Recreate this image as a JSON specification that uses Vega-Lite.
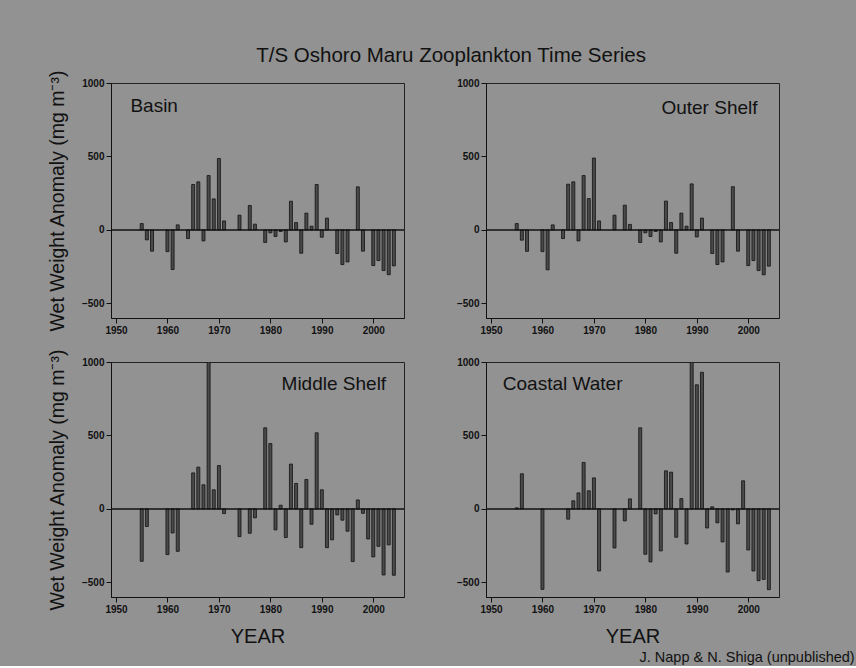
{
  "$schema": "https://vega.github.io/schema/vega-lite/v6.json",
  "background": "#929292",
  "padding": {"left": 46, "top": 46, "right": 2, "bottom": 1},
  "title": {"text": "T/S Oshoro Maru Zooplankton Time Series", "fontSize": 20.5, "fontWeight": "normal", "anchor": "middle", "offset": 2, "color": "#111", "font": "Liberation Sans"},
  "datasets": {
    "anom": [
      {"region": "Basin", "year": 1955, "value": 43}, {"region": "Basin", "year": 1956, "value": -68}, {"region": "Basin", "year": 1957, "value": -145},
      {"region": "Basin", "year": 1960, "value": -148}, {"region": "Basin", "year": 1961, "value": -270}, {"region": "Basin", "year": 1962, "value": 34},
      {"region": "Basin", "year": 1964, "value": -59}, {"region": "Basin", "year": 1965, "value": 309}, {"region": "Basin", "year": 1966, "value": 327},
      {"region": "Basin", "year": 1967, "value": -75}, {"region": "Basin", "year": 1968, "value": 370}, {"region": "Basin", "year": 1969, "value": 211},
      {"region": "Basin", "year": 1970, "value": 486}, {"region": "Basin", "year": 1971, "value": 61}, {"region": "Basin", "year": 1974, "value": 100},
      {"region": "Basin", "year": 1976, "value": 166}, {"region": "Basin", "year": 1977, "value": 39}, {"region": "Basin", "year": 1979, "value": -86},
      {"region": "Basin", "year": 1980, "value": -20}, {"region": "Basin", "year": 1981, "value": -45}, {"region": "Basin", "year": 1982, "value": -11},
      {"region": "Basin", "year": 1983, "value": -82}, {"region": "Basin", "year": 1984, "value": 195}, {"region": "Basin", "year": 1985, "value": 50},
      {"region": "Basin", "year": 1986, "value": -159}, {"region": "Basin", "year": 1987, "value": 114}, {"region": "Basin", "year": 1988, "value": 25},
      {"region": "Basin", "year": 1989, "value": 309}, {"region": "Basin", "year": 1990, "value": -50}, {"region": "Basin", "year": 1991, "value": 80},
      {"region": "Basin", "year": 1993, "value": -161}, {"region": "Basin", "year": 1994, "value": -236}, {"region": "Basin", "year": 1995, "value": -218},
      {"region": "Basin", "year": 1997, "value": 293}, {"region": "Basin", "year": 1998, "value": -145}, {"region": "Basin", "year": 2000, "value": -243},
      {"region": "Basin", "year": 2001, "value": -209}, {"region": "Basin", "year": 2002, "value": -277}, {"region": "Basin", "year": 2003, "value": -305},
      {"region": "Basin", "year": 2004, "value": -245},

      {"region": "Outer Shelf", "year": 1955, "value": 43}, {"region": "Outer Shelf", "year": 1956, "value": -70}, {"region": "Outer Shelf", "year": 1957, "value": -146},
      {"region": "Outer Shelf", "year": 1960, "value": -148}, {"region": "Outer Shelf", "year": 1961, "value": -272}, {"region": "Outer Shelf", "year": 1962, "value": 34},
      {"region": "Outer Shelf", "year": 1964, "value": -59}, {"region": "Outer Shelf", "year": 1965, "value": 311}, {"region": "Outer Shelf", "year": 1966, "value": 327},
      {"region": "Outer Shelf", "year": 1967, "value": -75}, {"region": "Outer Shelf", "year": 1968, "value": 370}, {"region": "Outer Shelf", "year": 1969, "value": 213},
      {"region": "Outer Shelf", "year": 1970, "value": 489}, {"region": "Outer Shelf", "year": 1971, "value": 61}, {"region": "Outer Shelf", "year": 1974, "value": 100},
      {"region": "Outer Shelf", "year": 1976, "value": 168}, {"region": "Outer Shelf", "year": 1977, "value": 37}, {"region": "Outer Shelf", "year": 1979, "value": -86},
      {"region": "Outer Shelf", "year": 1980, "value": -20}, {"region": "Outer Shelf", "year": 1981, "value": -45}, {"region": "Outer Shelf", "year": 1982, "value": -11},
      {"region": "Outer Shelf", "year": 1983, "value": -82}, {"region": "Outer Shelf", "year": 1984, "value": 196}, {"region": "Outer Shelf", "year": 1985, "value": 50},
      {"region": "Outer Shelf", "year": 1986, "value": -159}, {"region": "Outer Shelf", "year": 1987, "value": 114}, {"region": "Outer Shelf", "year": 1988, "value": 25},
      {"region": "Outer Shelf", "year": 1989, "value": 313}, {"region": "Outer Shelf", "year": 1990, "value": -48}, {"region": "Outer Shelf", "year": 1991, "value": 80},
      {"region": "Outer Shelf", "year": 1993, "value": -161}, {"region": "Outer Shelf", "year": 1994, "value": -236}, {"region": "Outer Shelf", "year": 1995, "value": -218},
      {"region": "Outer Shelf", "year": 1997, "value": 294}, {"region": "Outer Shelf", "year": 1998, "value": -145}, {"region": "Outer Shelf", "year": 2000, "value": -243},
      {"region": "Outer Shelf", "year": 2001, "value": -209}, {"region": "Outer Shelf", "year": 2002, "value": -277}, {"region": "Outer Shelf", "year": 2003, "value": -306},
      {"region": "Outer Shelf", "year": 2004, "value": -247},

      {"region": "Middle Shelf", "year": 1955, "value": -357}, {"region": "Middle Shelf", "year": 1956, "value": -120}, {"region": "Middle Shelf", "year": 1960, "value": -311},
      {"region": "Middle Shelf", "year": 1961, "value": -164}, {"region": "Middle Shelf", "year": 1962, "value": -289}, {"region": "Middle Shelf", "year": 1965, "value": 245},
      {"region": "Middle Shelf", "year": 1966, "value": 284}, {"region": "Middle Shelf", "year": 1967, "value": 164}, {"region": "Middle Shelf", "year": 1968, "value": 1000},
      {"region": "Middle Shelf", "year": 1969, "value": 130}, {"region": "Middle Shelf", "year": 1970, "value": 295}, {"region": "Middle Shelf", "year": 1971, "value": -32},
      {"region": "Middle Shelf", "year": 1974, "value": -189}, {"region": "Middle Shelf", "year": 1976, "value": -166}, {"region": "Middle Shelf", "year": 1977, "value": -61},
      {"region": "Middle Shelf", "year": 1979, "value": 552}, {"region": "Middle Shelf", "year": 1980, "value": 445}, {"region": "Middle Shelf", "year": 1981, "value": -143},
      {"region": "Middle Shelf", "year": 1982, "value": 25}, {"region": "Middle Shelf", "year": 1983, "value": -195}, {"region": "Middle Shelf", "year": 1984, "value": 305},
      {"region": "Middle Shelf", "year": 1985, "value": 173}, {"region": "Middle Shelf", "year": 1986, "value": -264}, {"region": "Middle Shelf", "year": 1987, "value": 200},
      {"region": "Middle Shelf", "year": 1988, "value": -105}, {"region": "Middle Shelf", "year": 1989, "value": 518}, {"region": "Middle Shelf", "year": 1990, "value": 130},
      {"region": "Middle Shelf", "year": 1991, "value": -264}, {"region": "Middle Shelf", "year": 1992, "value": -211}, {"region": "Middle Shelf", "year": 1993, "value": -41},
      {"region": "Middle Shelf", "year": 1994, "value": -77}, {"region": "Middle Shelf", "year": 1995, "value": -152}, {"region": "Middle Shelf", "year": 1996, "value": -359},
      {"region": "Middle Shelf", "year": 1997, "value": 61}, {"region": "Middle Shelf", "year": 1998, "value": -30}, {"region": "Middle Shelf", "year": 1999, "value": -205},
      {"region": "Middle Shelf", "year": 2000, "value": -327}, {"region": "Middle Shelf", "year": 2001, "value": -255}, {"region": "Middle Shelf", "year": 2002, "value": -450},
      {"region": "Middle Shelf", "year": 2003, "value": -245}, {"region": "Middle Shelf", "year": 2004, "value": -452},

      {"region": "Coastal Water", "year": 1955, "value": 7}, {"region": "Coastal Water", "year": 1956, "value": 239}, {"region": "Coastal Water", "year": 1960, "value": -548},
      {"region": "Coastal Water", "year": 1965, "value": -70}, {"region": "Coastal Water", "year": 1966, "value": 55}, {"region": "Coastal Water", "year": 1967, "value": 109},
      {"region": "Coastal Water", "year": 1968, "value": 316}, {"region": "Coastal Water", "year": 1969, "value": 123}, {"region": "Coastal Water", "year": 1970, "value": 211},
      {"region": "Coastal Water", "year": 1971, "value": -423}, {"region": "Coastal Water", "year": 1974, "value": -266}, {"region": "Coastal Water", "year": 1976, "value": -82},
      {"region": "Coastal Water", "year": 1977, "value": 68}, {"region": "Coastal Water", "year": 1979, "value": 552}, {"region": "Coastal Water", "year": 1980, "value": -309},
      {"region": "Coastal Water", "year": 1981, "value": -361}, {"region": "Coastal Water", "year": 1982, "value": -34}, {"region": "Coastal Water", "year": 1983, "value": -286},
      {"region": "Coastal Water", "year": 1984, "value": 259}, {"region": "Coastal Water", "year": 1985, "value": 250}, {"region": "Coastal Water", "year": 1986, "value": -193},
      {"region": "Coastal Water", "year": 1987, "value": 70}, {"region": "Coastal Water", "year": 1988, "value": -239}, {"region": "Coastal Water", "year": 1989, "value": 1000},
      {"region": "Coastal Water", "year": 1990, "value": 845}, {"region": "Coastal Water", "year": 1991, "value": 930}, {"region": "Coastal Water", "year": 1992, "value": -130},
      {"region": "Coastal Water", "year": 1993, "value": 14}, {"region": "Coastal Water", "year": 1994, "value": -95}, {"region": "Coastal Water", "year": 1995, "value": -225},
      {"region": "Coastal Water", "year": 1996, "value": -430}, {"region": "Coastal Water", "year": 1997, "value": -7}, {"region": "Coastal Water", "year": 1998, "value": -102},
      {"region": "Coastal Water", "year": 1999, "value": 191}, {"region": "Coastal Water", "year": 2000, "value": -280}, {"region": "Coastal Water", "year": 2001, "value": -423},
      {"region": "Coastal Water", "year": 2002, "value": -489}, {"region": "Coastal Water", "year": 2003, "value": -480}, {"region": "Coastal Water", "year": 2004, "value": -550}
    ]
  },
  "columns": 2,
  "spacing": {"row": 44, "column": 82},
  "bounds": "flush",
  "concat": [
    {
      "width": 293, "height": 235,
      "layer": [
        {
          "data": {"name": "anom"},
          "transform": [{"filter": "datum.region === 'Basin'"}],
          "mark": {"type": "bar", "width": 3, "fill": "#4a4a4a", "stroke": "#111", "strokeWidth": 0.8},
          "encoding": {
            "x": {"field": "year", "type": "quantitative", "scale": {"domain": [1950, 2005], "nice": false, "zero": false},
                  "axis": {"title": null, "values": [1950, 1955, 1960, 1965, 1970, 1975, 1980, 1985, 1990, 1995, 2000, 2005], "format": "d", "labelExpr": "datum.value % 10 === 0 ? datum.label : ''"}},
            "y": {"field": "value", "type": "quantitative", "scale": {"domain": [-600, 1000], "nice": false},
                  "axis": {"title": "Wet Weight Anomaly (mg m⁻³)", "titlePadding": 14, "values": [-500, -250, 0, 250, 500, 750, 1000], "format": "d", "labelExpr": "datum.value % 500 === 0 ? datum.label : ''"}}
          }
        },
        {"data": {"values": [{}]}, "mark": {"type": "rule", "color": "#111", "strokeWidth": 1.5}, "encoding": {"y": {"datum": 0}}},
        {"data": {"values": [{"label": "Basin"}]}, "mark": {"type": "text", "align": "left", "baseline": "middle", "fontSize": 19, "color": "#111"},
         "encoding": {"x": {"datum": 1952.8}, "y": {"datum": 845}, "text": {"field": "label"}}}
      ]
    },
    {
      "width": 293, "height": 235,
      "layer": [
        {
          "data": {"name": "anom"},
          "transform": [{"filter": "datum.region === 'Outer Shelf'"}],
          "mark": {"type": "bar", "width": 3, "fill": "#4a4a4a", "stroke": "#111", "strokeWidth": 0.8},
          "encoding": {
            "x": {"field": "year", "type": "quantitative", "scale": {"domain": [1950, 2005], "nice": false, "zero": false},
                  "axis": {"title": null, "values": [1950, 1955, 1960, 1965, 1970, 1975, 1980, 1985, 1990, 1995, 2000, 2005], "format": "d", "labelExpr": "datum.value % 10 === 0 ? datum.label : ''"}},
            "y": {"field": "value", "type": "quantitative", "scale": {"domain": [-600, 1000], "nice": false},
                  "axis": {"title": null, "values": [-500, -250, 0, 250, 500, 750, 1000], "format": "d", "labelExpr": "datum.value % 500 === 0 ? datum.label : ''"}}
          }
        },
        {"data": {"values": [{}]}, "mark": {"type": "rule", "color": "#111", "strokeWidth": 1.5}, "encoding": {"y": {"datum": 0}}},
        {"data": {"values": [{"label": "Outer Shelf"}]}, "mark": {"type": "text", "align": "right", "baseline": "middle", "fontSize": 19, "color": "#111"},
         "encoding": {"x": {"datum": 2001.8}, "y": {"datum": 830}, "text": {"field": "label"}}}
      ]
    },
    {
      "width": 293, "height": 235,
      "layer": [
        {
          "data": {"name": "anom"},
          "transform": [{"filter": "datum.region === 'Middle Shelf'"}],
          "mark": {"type": "bar", "width": 3, "fill": "#4a4a4a", "stroke": "#111", "strokeWidth": 0.8, "clip": true},
          "encoding": {
            "x": {"field": "year", "type": "quantitative", "scale": {"domain": [1950, 2005], "nice": false, "zero": false},
                  "axis": {"title": "YEAR", "titleFontSize": 20, "titlePadding": 12, "values": [1950, 1955, 1960, 1965, 1970, 1975, 1980, 1985, 1990, 1995, 2000, 2005], "format": "d", "labelExpr": "datum.value % 10 === 0 ? datum.label : ''"}},
            "y": {"field": "value", "type": "quantitative", "scale": {"domain": [-600, 1000], "nice": false},
                  "axis": {"title": "Wet Weight Anomaly (mg m⁻³)", "titlePadding": 14, "values": [-500, -250, 0, 250, 500, 750, 1000], "format": "d", "labelExpr": "datum.value % 500 === 0 ? datum.label : ''"}}
          }
        },
        {"data": {"values": [{}]}, "mark": {"type": "rule", "color": "#111", "strokeWidth": 1.5}, "encoding": {"y": {"datum": 0}}},
        {"data": {"values": [{"label": "Middle Shelf"}]}, "mark": {"type": "text", "align": "right", "baseline": "middle", "fontSize": 19, "color": "#111"},
         "encoding": {"x": {"datum": 2002.5}, "y": {"datum": 850}, "text": {"field": "label"}}}
      ]
    },
    {
      "width": 293, "height": 235,
      "title": {"text": "J. Napp & N. Shiga (unpublished)", "orient": "bottom", "anchor": "start", "dx": 183, "offset": 5, "fontSize": 14.5, "fontWeight": "normal", "color": "#111"},
      "layer": [
        {
          "data": {"name": "anom"},
          "transform": [{"filter": "datum.region === 'Coastal Water'"}],
          "mark": {"type": "bar", "width": 3, "fill": "#4a4a4a", "stroke": "#111", "strokeWidth": 0.8, "clip": true},
          "encoding": {
            "x": {"field": "year", "type": "quantitative", "scale": {"domain": [1950, 2005], "nice": false, "zero": false},
                  "axis": {"title": "YEAR", "titleFontSize": 20, "titlePadding": 12, "values": [1950, 1955, 1960, 1965, 1970, 1975, 1980, 1985, 1990, 1995, 2000, 2005], "format": "d", "labelExpr": "datum.value % 10 === 0 ? datum.label : ''"}},
            "y": {"field": "value", "type": "quantitative", "scale": {"domain": [-600, 1000], "nice": false},
                  "axis": {"title": null, "values": [-500, -250, 0, 250, 500, 750, 1000], "format": "d", "labelExpr": "datum.value % 500 === 0 ? datum.label : ''"}}
          }
        },
        {"data": {"values": [{}]}, "mark": {"type": "rule", "color": "#111", "strokeWidth": 1.5}, "encoding": {"y": {"datum": 0}}},
        {"data": {"values": [{"label": "Coastal Water"}]}, "mark": {"type": "text", "align": "left", "baseline": "middle", "fontSize": 19, "color": "#111"},
         "encoding": {"x": {"datum": 1952.3}, "y": {"datum": 850}, "text": {"field": "label"}}}
      ]
    }
  ],
  "config": {
    "font": "Liberation Sans",
    "view": {"stroke": "#222", "strokeWidth": 1},
    "axis": {"grid": false, "domainColor": "#111", "tickColor": "#111", "labelColor": "#111", "titleColor": "#111",
             "labelFont": "Liberation Sans", "labelFontSize": 10, "labelFontWeight": "bold", "tickSize": 5,
             "titleFont": "Liberation Sans", "titleFontWeight": "normal", "titleFontSize": 19.5, "titlePadding": 8, "labelPadding": 2},
    "text": {"font": "Liberation Sans"}
  }
}
